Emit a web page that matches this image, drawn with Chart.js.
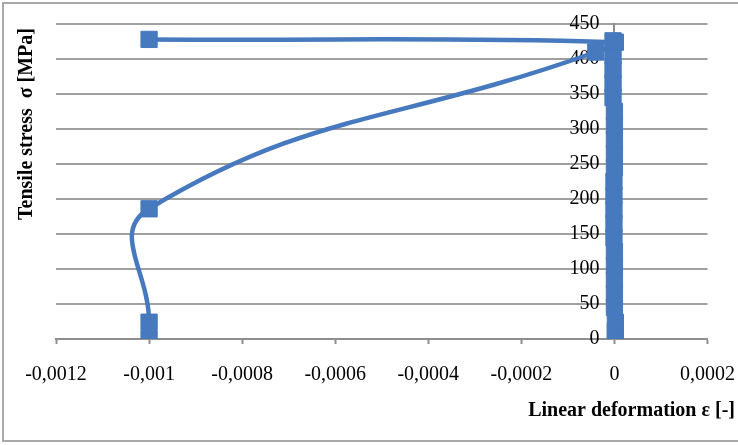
<!DOCTYPE html>
<html>
<head>
<meta charset="utf-8">
<script src="https://cdn.jsdelivr.net/npm/chart.js@4.4.1/dist/chart.umd.min.js"></script>
<style>
  body { margin: 0; background: #fff; }
  #wrap { position: relative; width: 738px; height: 445px; }
  #frame {
    position: absolute; left: 2px; top: 2px; width: 745px; height: 440px;
    border: 2px solid #a9a9a9; box-sizing: border-box;
  }
  canvas { position: absolute; left: 0; top: 0; }
</style>
</head>
<body>
<div id="wrap">
  <div id="frame"></div>
  <canvas id="chart" width="738" height="445"></canvas>
</div>
<script>
// loading path: -0,001 markers, then up to the yield point and back
const epsCurve = [-0.001, -0.001, -0.001, -0.00004, 0.000002, -0.001];
const sigmaCurve = [0, 24, 186, 410, 424, 428];

// readings that stay at ~0 strain (the thick stack on the y axis)
const epsBar = [0.000002, 0.000002, 0.000002, 0, 0, 0, 0, 0, -0.000001, -0.000001,
  -0.000001, -0.000001, -0.000001, 0, 0, 0, 0, 0, -0.000003, -0.000003, -0.000003,
  -0.000003, -0.000003];
const sigmaBar = [0, 12, 24, 45, 65, 85, 105, 125, 145, 165, 185, 205, 225, 245,
  265, 285, 305, 325, 345, 365, 385, 405, 426];

const xTickValues = [-0.0012, -0.001, -0.0008, -0.0006, -0.0004, -0.0002, 0, 0.0002];
const xTickLabels = ["-0,0012", "-0,001", "-0,0008", "-0,0006", "-0,0004", "-0,0002", "0", "0,0002"];
const yTickValues = [0, 50, 100, 150, 200, 250, 300, 350, 400, 450];
const yTickLabels = ["0", "50", "100", "150", "200", "250", "300", "350", "400", "450"];

const xTitle = "Linear deformation \u03b5 [-]";
const yTitle = "Tensile stress  \u03c3 [MPa]";

const blue = "#4679bd";
const gridGray = "#a0a0a0";
const axisGray = "#8f8f8f";
const serif = "'Liberation Serif', 'Times New Roman', serif";

const toPoints = (xs, ys) => xs.map((x, i) => ({ x: x, y: ys[i] }));

// axis titles sit outside the chart area like in Excel
const axisTitles = {
  id: "axisTitles",
  afterDraw(chart) {
    const ctx = chart.ctx;
    ctx.save();
    ctx.fillStyle = "#000";
    ctx.font = "bold 20px " + serif;
    ctx.textBaseline = "middle";
    ctx.textAlign = "right";
    ctx.fillText(xTitle, 735, 411);
    ctx.translate(27, 124);
    ctx.rotate(-Math.PI / 2);
    ctx.textAlign = "center";
    ctx.fillText(yTitle, 0, 0);
    ctx.restore();
  },
};

new Chart(document.getElementById("chart"), {
  type: "scatter",
  data: {
    datasets: [
      {
        data: toPoints(epsBar, sigmaBar),
        showLine: true,
        borderColor: blue,
        backgroundColor: blue,
        borderWidth: 4.5,
        pointStyle: "rect",
        pointRadius: 11.5,
        pointBorderWidth: 1,
        pointBorderColor: blue,
        pointBackgroundColor: blue,
      },
      {
        data: toPoints(epsCurve, sigmaCurve),
        showLine: true,
        tension: 0.45,
        borderColor: blue,
        backgroundColor: blue,
        borderWidth: 4.5,
        pointStyle: "rect",
        pointRadius: 11.5,
        pointBorderWidth: 1,
        pointBorderColor: blue,
        pointBackgroundColor: blue,
      },
    ],
  },
  options: {
    responsive: false,
    animation: false,
    devicePixelRatio: 1,
    layout: { padding: { left: 56, right: 30, top: 24, bottom: 0 } },
    plugins: { legend: { display: false }, tooltip: { enabled: false } },
    scales: {
      x: {
        type: "linear",
        position: "bottom",
        min: -0.0012,
        max: 0.0002,
        afterBuildTicks: (s) => { s.ticks = xTickValues.map((v) => ({ value: v })); },
        afterFit: (s) => { s.height = 106; },
        ticks: {
          color: "#000",
          font: { family: serif, size: 20, lineHeight: 2.75 },
          padding: 3,
          maxRotation: 0,
          callback: (v, i) => xTickLabels[i],
        },
        grid: {
          drawOnChartArea: false,
          drawTicks: true,
          tickLength: 5,
          tickColor: axisGray,
          tickWidth: 2,
        },
        border: { color: axisGray, width: 2 },
      },
      y: {
        type: "linear",
        position: { x: 0 },
        min: 0,
        max: 450,
        afterBuildTicks: (s) => { s.ticks = yTickValues.map((v) => ({ value: v })); },
        ticks: {
          color: "#000",
          font: { family: serif, size: 20 },
          // labels hang left of the axis; trailing spaces give the gap
          callback: (v, i) => yTickLabels[i] + "   ",
        },
        grid: { color: gridGray, lineWidth: 2, drawTicks: false },
        border: { color: axisGray, width: 2 },
      },
    },
  },
  plugins: [axisTitles],
});
</script>
</body>
</html>
